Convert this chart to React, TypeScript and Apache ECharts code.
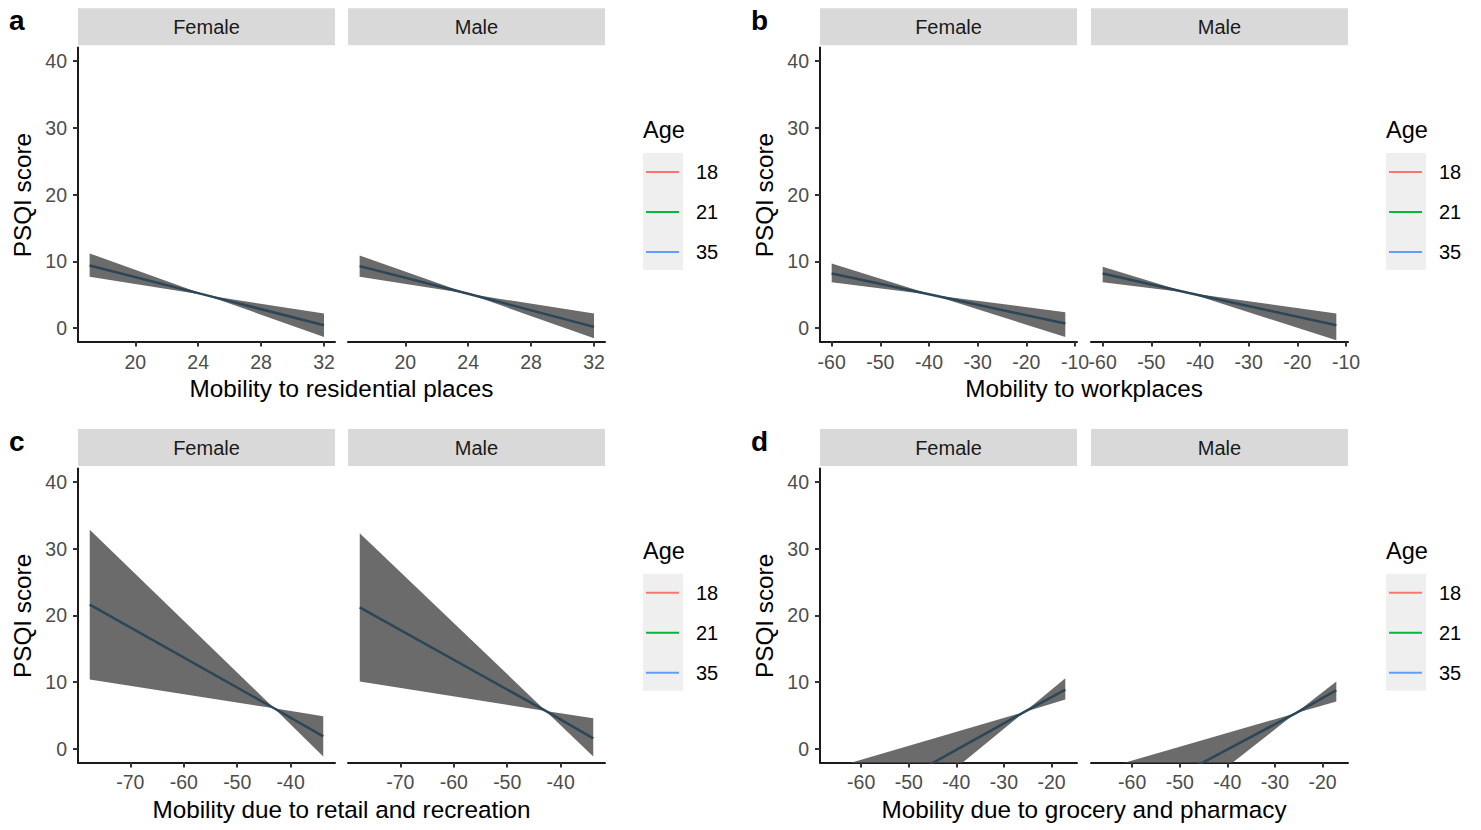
import React, { useEffect, useRef } from "react";
import * as echarts from "echarts";

// ---------------- data ----------------
const facetNames = ["Female", "Male"];
const ageLevels = ["18", "21", "35"];
const ageColors = ["#F8766D", "#00BA38", "#619CFF"];
const panelLetters = ["a", "b", "c", "d"];
const xTitles = [
  "Mobility to residential places",
  "Mobility to workplaces",
  "Mobility due to retail and recreation",
  "Mobility due to grocery and pharmacy",
];
const yTitle = "PSQI score";
const legendTitle = "Age";
const yTicks = [0, 10, 20, 30, 40];
const yRange = [-2, 42];

// a: residential places
const resTicks = [20, 24, 28, 32];
const resRange = [16.36, 32.7];
const resFemaleX = [17.1, 24.5, 32.0];
const resFemaleFit = [9.4, 4.95, 0.45];
const resFemaleLow = [7.7, 4.95, -1.3];
const resFemaleUp = [11.2, 4.95, 2.2];
const resMaleX = [17.1, 24.0, 32.0];
const resMaleFit = [9.3, 5.15, 0.2];
const resMaleLow = [7.7, 5.15, -1.5];
const resMaleUp = [10.9, 5.15, 2.2];

// b: workplaces
const workTicks = [-60, -50, -40, -30, -20, -10];
const workRange = [-62.4, -9.6];
const workFemaleX = [-60, -39.3, -12];
const workFemaleFit = [8.2, 4.96, 0.7];
const workFemaleLow = [6.9, 4.96, -1.3];
const workFemaleUp = [9.7, 4.96, 2.4];
const workMaleX = [-60, -42.5, -12];
const workMaleFit = [8.2, 5.3, 0.45];
const workMaleLow = [6.9, 5.3, -1.8];
const workMaleUp = [9.2, 5.3, 2.2];

// c: retail and recreation
const retailTicks = [-70, -60, -50, -40];
const retailRange = [-79.8, -31.7];
const retailFemaleX = [-77.6, -43.1, -33.9];
const retailFemaleFit = [21.6, 6.1, 1.9];
const retailFemaleLow = [10.4, 6.1, -1.1];
const retailFemaleUp = [32.8, 6.1, 4.9];
const retailMaleX = [-77.6, -42.8, -33.9];
const retailMaleFit = [21.2, 5.7, 1.6];
const retailMaleLow = [10.1, 5.7, -1.1];
const retailMaleUp = [32.3, 5.7, 4.6];

// d: grocery and pharmacy
const groceryTicks = [-60, -50, -40, -30, -20];
const groceryRange = [-68.65, -14.65];
const groceryFemaleX = [-66.2, -25.7, -17.1];
const groceryFemaleFit = [-10.5, 5.55, 8.9];
const groceryFemaleLow = [-18.1, 5.55, 7.4];
const groceryFemaleUp = [-2.9, 5.55, 10.6];
const groceryMaleX = [-66.2, -25.7, -17.1];
const groceryMaleFit = [-10.0, 5.35, 8.8];
const groceryMaleLow = [-17.3, 5.35, 7.1];
const groceryMaleUp = [-3.0, 5.35, 10.1];

// ---------------- style / layout ----------------
const FONT = '"Liberation Sans", Arial, Helvetica, sans-serif';
const bandColor = "#6B6B6B";
const fitColor = "#2B4656";
const stripFill = "#D9D9D9";
const colLeft = [78, 348, 820, 1091];
const facetW = 257;
const rowTop = [47.6, 468.4];
const plotH = 294;

type Facet = { x: number[]; fit: number[]; low: number[]; up: number[] };
type Panel = { range: number[]; ticks: number[]; facets: Facet[] };

const panels: Panel[] = [
  {
    range: resRange,
    ticks: resTicks,
    facets: [
      { x: resFemaleX, fit: resFemaleFit, low: resFemaleLow, up: resFemaleUp },
      { x: resMaleX, fit: resMaleFit, low: resMaleLow, up: resMaleUp },
    ],
  },
  {
    range: workRange,
    ticks: workTicks,
    facets: [
      { x: workFemaleX, fit: workFemaleFit, low: workFemaleLow, up: workFemaleUp },
      { x: workMaleX, fit: workMaleFit, low: workMaleLow, up: workMaleUp },
    ],
  },
  {
    range: retailRange,
    ticks: retailTicks,
    facets: [
      { x: retailFemaleX, fit: retailFemaleFit, low: retailFemaleLow, up: retailFemaleUp },
      { x: retailMaleX, fit: retailMaleFit, low: retailMaleLow, up: retailMaleUp },
    ],
  },
  {
    range: groceryRange,
    ticks: groceryTicks,
    facets: [
      { x: groceryFemaleX, fit: groceryFemaleFit, low: groceryFemaleLow, up: groceryFemaleUp },
      { x: groceryMaleX, fit: groceryMaleFit, low: groceryMaleLow, up: groceryMaleUp },
    ],
  },
];

function buildOption() {
  const grids: any[] = [];
  const xAxes: any[] = [];
  const yAxes: any[] = [];
  const series: any[] = [];
  const graphics: any[] = [];

  panels.forEach((p, pi) => {
    const row = Math.floor(pi / 2);
    const colPair = pi % 2;
    const top = rowTop[row];
    facetNames.forEach((fname, fi) => {
      const left = colLeft[colPair * 2 + fi];
      const g = grids.length;
      grids.push({
        left,
        top,
        width: facetW,
        height: plotH,
        containLabel: false,
        outerBoundsMode: "none",
      });
      xAxes.push({
        type: "value",
        gridIndex: g,
        min: p.range[0],
        max: p.range[1],
        axisLine: { show: true, onZero: false, lineStyle: { color: "#1A1A1A", width: 2 } },
        axisTick: { show: true, length: 5, customValues: p.ticks, lineStyle: { color: "#333333", width: 2 } },
        axisLabel: {
          show: true,
          customValues: p.ticks,
          margin: 10,
          color: "#4D4D4D",
          fontSize: 19.5,
          fontFamily: FONT,
        },
        splitLine: { show: false },
      });
      const showY = fi === 0;
      yAxes.push({
        type: "value",
        gridIndex: g,
        min: yRange[0],
        max: yRange[1],
        show: showY,
        axisLine: { show: showY, onZero: false, lineStyle: { color: "#1A1A1A", width: 2 } },
        axisTick: { show: showY, length: 5, customValues: yTicks, lineStyle: { color: "#333333", width: 2 } },
        axisLabel: {
          show: showY,
          customValues: yTicks,
          margin: 11,
          color: "#4D4D4D",
          fontSize: 19.5,
          fontFamily: FONT,
        },
        splitLine: { show: false },
      });
      const f = p.facets[fi];
      const n = f.x.length;
      series.push({
        type: "custom",
        xAxisIndex: g,
        yAxisIndex: g,
        clip: true,
        silent: true,
        z: 2,
        encode: { x: 0, y: [1, 2] },
        data: f.x.map((x, i) => [x, f.low[i], f.up[i]]),
        renderItem: (params: any, api: any) => {
          const i = params.dataIndexInside;
          if (i >= n - 1) return null;
          const x0 = api.value(0, i);
          const l0 = api.value(1, i);
          const u0 = api.value(2, i);
          const x1 = api.value(0, i + 1);
          const l1 = api.value(1, i + 1);
          const u1 = api.value(2, i + 1);
          const pts = [api.coord([x0, l0]), api.coord([x1, l1]), api.coord([x1, u1]), api.coord([x0, u0])];
          return { type: "polygon", shape: { points: pts }, style: { fill: bandColor } };
        },
      });
      series.push({
        type: "line",
        xAxisIndex: g,
        yAxisIndex: g,
        clip: true,
        silent: true,
        z: 3,
        symbol: "none",
        showSymbol: false,
        lineStyle: { color: fitColor, width: 2.5 },
        data: f.x.map((x, i) => [x, f.fit[i]]),
      });
      // strip
      graphics.push({
        type: "rect",
        shape: { x: left, y: top - 39.3, width: facetW, height: 37 },
        style: { fill: stripFill },
        silent: true,
      });
      graphics.push({
        type: "text",
        x: left + facetW / 2,
        y: top - 20.8,
        style: {
          text: fname,
          fill: "#1A1A1A",
          fontSize: 20,
          fontFamily: FONT,
          align: "center",
          verticalAlign: "middle",
          textAlign: "center",
          textVerticalAlign: "middle",
        },
        silent: true,
      });
    });

    const pairLeft = colLeft[colPair * 2];
    const pairRight = colLeft[colPair * 2 + 1] + facetW;
    // x title
    graphics.push({
      type: "text",
      x: (pairLeft + pairRight) / 2,
      y: top + 341,
      style: {
        text: xTitles[pi],
        fill: "#000000",
        fontSize: 24.3,
        fontFamily: FONT,
        align: "center",
        verticalAlign: "middle",
        textAlign: "center",
        textVerticalAlign: "middle",
      },
      silent: true,
    });
    // y title
    graphics.push({
      type: "text",
      x: pairLeft - 55.5,
      y: top + 147.5,
      rotation: Math.PI / 2,
      style: {
        text: yTitle,
        fill: "#000000",
        fontSize: 24.3,
        fontFamily: FONT,
        align: "center",
        verticalAlign: "middle",
        textAlign: "center",
        textVerticalAlign: "middle",
      },
      silent: true,
    });
    // panel letter
    graphics.push({
      type: "text",
      x: pairLeft - 69,
      y: top - 27,
      style: {
        text: panelLetters[pi],
        fill: "#000000",
        fontSize: 28,
        fontWeight: "bold",
        fontFamily: FONT,
        align: "left",
        verticalAlign: "middle",
        textAlign: "left",
        textVerticalAlign: "middle",
      },
      silent: true,
    });
    // legend
    const lgLeft = pairRight + 38;
    graphics.push({
      type: "text",
      x: lgLeft,
      y: top + 82.5,
      style: {
        text: legendTitle,
        fill: "#000000",
        fontSize: 23.5,
        fontFamily: FONT,
        align: "left",
        verticalAlign: "middle",
        textAlign: "left",
        textVerticalAlign: "middle",
      },
      silent: true,
    });
    graphics.push({
      type: "rect",
      shape: { x: lgLeft, y: top + 105.4, width: 40, height: 117 },
      style: { fill: "#EFEFEF" },
      silent: true,
    });
    ageLevels.forEach((lab, k) => {
      const ly = top + 124.4 + k * 40;
      graphics.push({
        type: "line",
        shape: { x1: lgLeft + 3, y1: ly, x2: lgLeft + 36, y2: ly },
        style: { stroke: ageColors[k], lineWidth: 2 },
        silent: true,
      });
      graphics.push({
        type: "text",
        x: lgLeft + 53,
        y: ly,
        style: {
          text: lab,
          fill: "#000000",
          fontSize: 20,
          fontFamily: FONT,
          align: "left",
          verticalAlign: "middle",
          textAlign: "left",
          textVerticalAlign: "middle",
        },
        silent: true,
      });
    });
  });

  return {
    animation: false,
    backgroundColor: "#FFFFFF",
    textStyle: { fontFamily: FONT },
    grid: grids,
    xAxis: xAxes,
    yAxis: yAxes,
    series,
    graphic: { elements: graphics },
  };
}

export default function App() {
  const ref = useRef<HTMLDivElement>(null);
  useEffect(() => {
    document.body.style.margin = "0";
    if (!ref.current) return;
    const chart = echarts.init(ref.current, undefined, { renderer: "svg" });
    chart.setOption(buildOption() as any);
    return () => {
      chart.dispose();
    };
  }, []);
  return <div ref={ref} style={{ width: 1481, height: 830 }} />;
}
